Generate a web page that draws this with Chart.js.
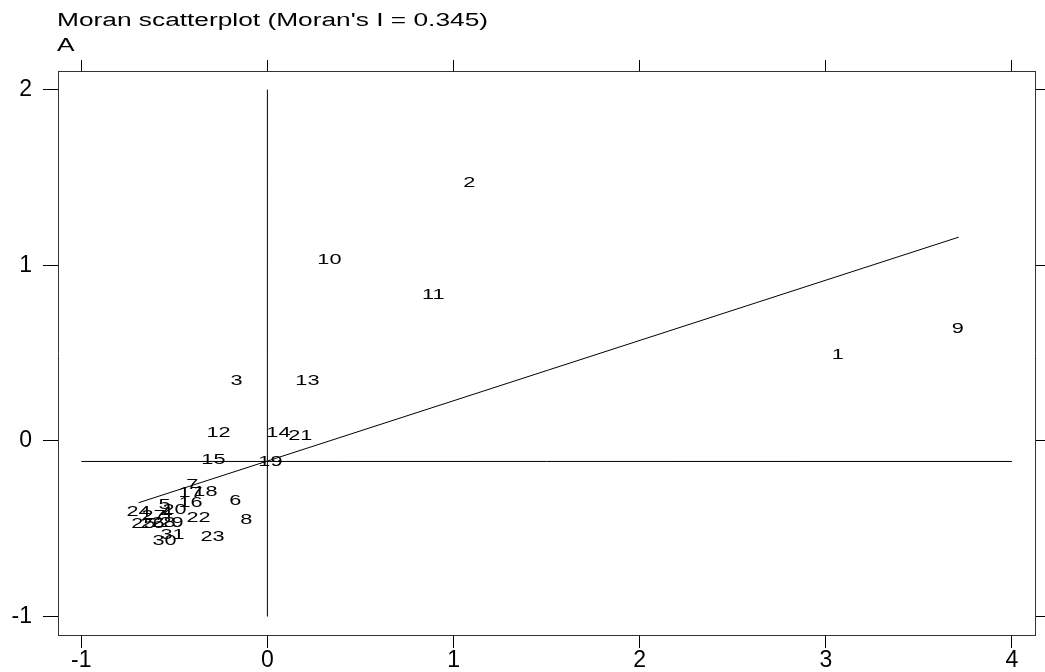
<!DOCTYPE html>
<html>
<head>
<meta charset="utf-8">
<script src="https://cdn.jsdelivr.net/npm/chart.js@4"></script>
<style>
  html, body { margin: 0; padding: 0; background: #fff; }
  #wrap { width: 1045px; height: 672px; }
</style>
</head>
<body>
<div id="wrap"><canvas id="c" width="1045" height="672"></canvas></div>
<script>
// ---- data ----
const pointLabels = ['1','2','3','4','5','6','7','8','9','10','11','12','13','14','15','16','17','18','19','20','21','22','23','24','25','26','27','28','29','30','31'];
const xValues = [3.065, 1.084, -0.166, -0.542, -0.553, -0.172, -0.403, -0.113, 3.709, 0.333, 0.891, -0.263, 0.215, 0.059, -0.290, -0.413, -0.413, -0.333, 0.016, -0.499, 0.177, -0.370, -0.295, -0.692, -0.666, -0.617, -0.612, -0.558, -0.515, -0.553, -0.510];
const yValues = [0.490, 1.468, 0.342, -0.409, -0.363, -0.341, -0.250, -0.449, 0.638, 1.030, 0.831, 0.046, 0.342, 0.046, -0.108, -0.352, -0.295, -0.290, -0.119, -0.392, 0.029, -0.437, -0.546, -0.403, -0.472, -0.472, -0.426, -0.466, -0.466, -0.568, -0.534];
const fitLineX = [-0.692, 3.714];
const fitLineY = [-0.352, 1.160];
const vLineX = [0, 0];
const vLineY = [-1, 2];
const hLineX = [-1, 4];
const hLineY = [-0.117, -0.117];
const xTicks = [-1, 0, 1, 2, 3, 4];
const yTicks = [-1, 0, 1, 2];
const titleText = "Moran scatterplot (Moran's I = 0.345)";
const subTitleText = "A";

const toPts = (xs, ys) => xs.map((x, i) => ({ x: x, y: ys[i] }));

const FONT = '"Liberation Sans", Arial, sans-serif';
const STRETCH = 1.4;

const textPlugin = {
  id: 'stretchedText',
  afterDatasetsDraw(chart) {
    const ctx = chart.ctx;
    const meta = chart.getDatasetMeta(0);
    ctx.save();
    ctx.fillStyle = '#000';
    ctx.font = '15.5px ' + FONT;
    ctx.textAlign = 'center';
    ctx.textBaseline = 'middle';
    meta.data.forEach((el, i) => {
      ctx.save();
      ctx.translate(el.x, el.y);
      ctx.scale(STRETCH, 1);
      ctx.fillText(pointLabels[i], 0, 0);
      ctx.restore();
    });
    ctx.restore();
  },
  afterDraw(chart) {
    const ctx = chart.ctx;
    ctx.save();
    ctx.fillStyle = '#000';
    ctx.font = '18.8px ' + FONT;
    ctx.textAlign = 'left';
    ctx.textBaseline = 'alphabetic';
    ctx.save();
    ctx.translate(57, 26);
    ctx.scale(STRETCH, 1);
    ctx.fillText(titleText, 0, 0);
    ctx.restore();
    ctx.save();
    ctx.translate(57, 50.5);
    ctx.scale(STRETCH, 1);
    ctx.fillText(subTitleText, 0, 0);
    ctx.restore();
    ctx.restore();
  }
};

const lineDs = (data) => ({
  data: data,
  showLine: true,
  borderColor: '#000',
  borderWidth: 1,
  pointRadius: 0,
  pointHoverRadius: 0,
  fill: false,
  tension: 0
});

const xSetTicks = s => { s.ticks = xTicks.map(v => ({ value: v })); };
const ySetTicks = s => { s.ticks = yTicks.map(v => ({ value: v })); };

new Chart(document.getElementById('c'), {
  type: 'scatter',
  data: {
    datasets: [
      { data: toPts(xValues, yValues), pointRadius: 0, pointHoverRadius: 0, showLine: false },
      lineDs(toPts(fitLineX, fitLineY)),
      lineDs(toPts(vLineX, vLineY)),
      lineDs(toPts(hLineX, hLineY))
    ]
  },
  options: {
    responsive: false,
    animation: false,
    devicePixelRatio: 1,
    layout: { padding: 0 },
    plugins: { legend: { display: false }, tooltip: { enabled: false }, title: { display: false } },
    scales: {
      x: {
        type: 'linear', position: 'bottom', min: -1.125, max: 4.124,
        afterBuildTicks: xSetTicks,
        afterFit: s => { s.height = 37; },
        ticks: { color: '#000', font: { family: FONT, size: 23, lineHeight: 1 }, padding: 1, maxRotation: 0, autoSkip: false },
        grid: { drawOnChartArea: false, drawTicks: true, tickLength: 13, color: '#000', lineWidth: 1 },
        border: { display: true, color: '#333', width: 1 }
      },
      xTop: {
        type: 'linear', axis: 'x', position: 'top', min: -1.125, max: 4.124,
        afterBuildTicks: xSetTicks,
        afterFit: s => { s.height = 71; },
        ticks: { display: false },
        grid: { drawOnChartArea: false, drawTicks: true, tickLength: 11, color: '#000', lineWidth: 1 },
        border: { display: true, color: '#333', width: 1 }
      },
      y: {
        type: 'linear', position: 'left', min: -1.105, max: 2.106,
        afterBuildTicks: ySetTicks,
        afterFit: s => { s.width = 58; },
        ticks: { color: '#000', font: { family: FONT, size: 23, lineHeight: 1 }, padding: 11, autoSkip: false },
        grid: { drawOnChartArea: false, drawTicks: true, tickLength: 15, color: '#000', lineWidth: 1 },
        border: { display: true, color: '#333', width: 1 }
      },
      yRight: {
        type: 'linear', axis: 'y', position: 'right', min: -1.105, max: 2.106,
        afterBuildTicks: ySetTicks,
        afterFit: s => { s.width = 10; },
        ticks: { display: false },
        grid: { drawOnChartArea: false, drawTicks: true, tickLength: 10, color: '#000', lineWidth: 1 },
        border: { display: true, color: '#333', width: 1 }
      }
    }
  },
  plugins: [textPlugin]
});
</script>
</body>
</html>
